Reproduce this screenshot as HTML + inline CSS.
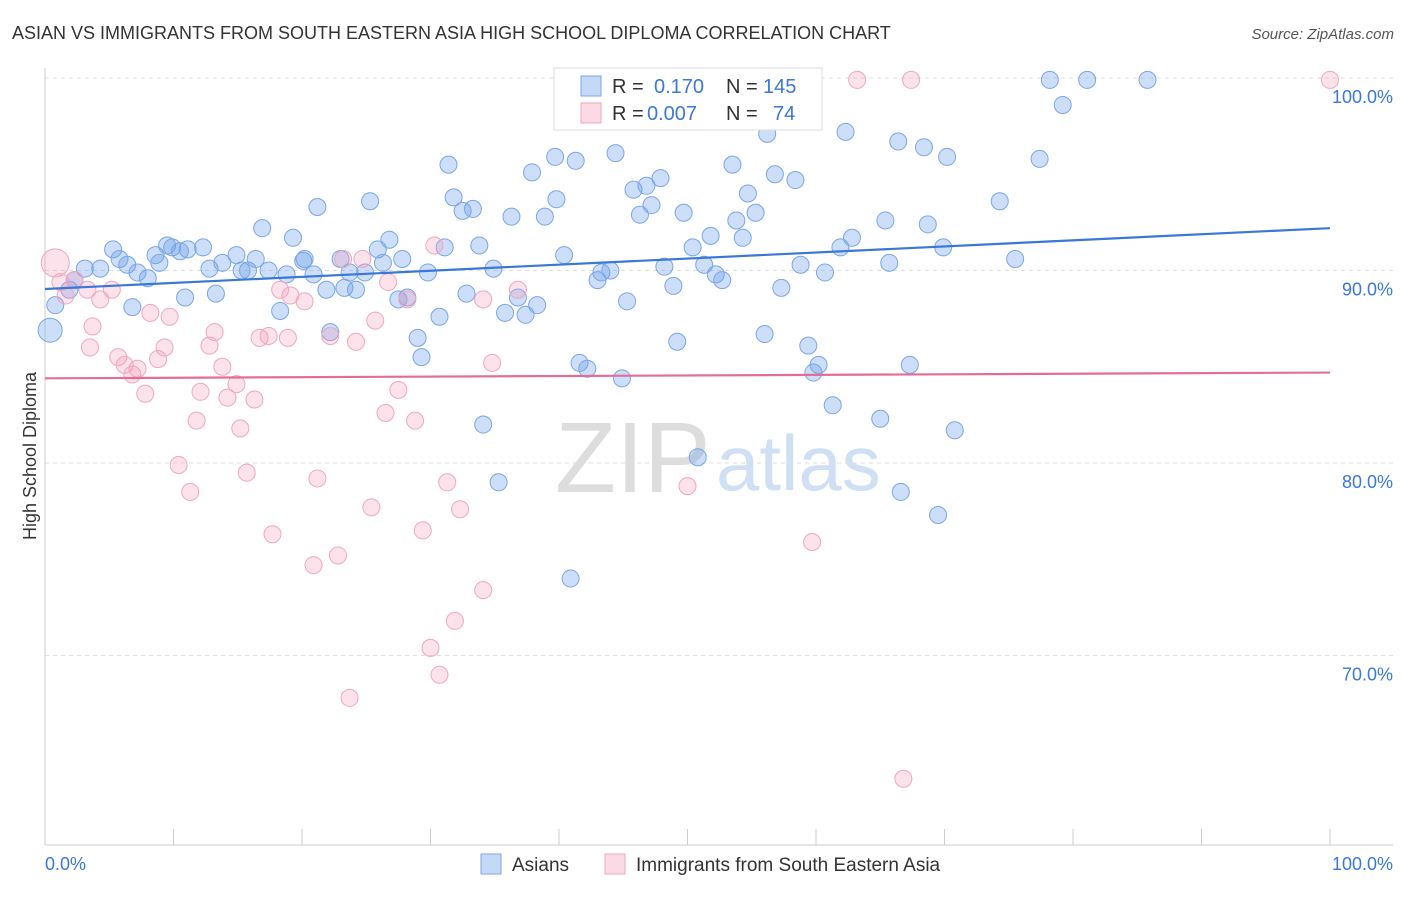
<!DOCTYPE html>
<html><head><meta charset="utf-8">
<style>
body{margin:0;background:#fff;font-family:"Liberation Sans",sans-serif;}
svg text{font-family:"Liberation Sans",sans-serif;}
</style></head>
<body>
<svg id="chart" width="1406" height="892" xmlns="http://www.w3.org/2000/svg">
<text x="12" y="39" font-size="18" fill="#333">ASIAN VS IMMIGRANTS FROM SOUTH EASTERN ASIA HIGH SCHOOL DIPLOMA CORRELATION CHART</text>
<text x="1394" y="39" font-size="15" fill="#555" font-style="italic" text-anchor="end">Source: ZipAtlas.com</text>
<text x="555" y="492" font-size="100" fill="#ddd" font-family="Liberation Serif">ZIP</text>
<text x="716" y="490" font-size="78" fill="#cfe0f4">atlas</text>
<g id="grid"></g>
<g id="axes"></g>
<g id="pts"></g>
<g id="lines"></g>
<text x="36" y="456" font-size="18" fill="#333" text-anchor="middle" transform="rotate(-90 36 456)">High School Diploma</text>
<g>
<rect x="554" y="68" width="268" height="62" fill="#fff" stroke="#ddd"/>
<rect x="581" y="76" width="20" height="20" fill="rgba(110,160,235,0.4)" stroke="#7aa6e6"/>
<rect x="581" y="103" width="20" height="20" fill="rgba(245,160,190,0.4)" stroke="#f0a6bf"/>
<text x="612" y="93" font-size="20" fill="#333">R = </text><text x="654" y="93" font-size="20" fill="#3a78d8">0.170</text>
<text x="726" y="93" font-size="20" fill="#333">N = </text><text x="763" y="93" font-size="20" fill="#3a78d8">145</text>
<text x="612" y="120" font-size="20" fill="#333">R = </text><text x="647" y="120" font-size="20" fill="#3a78d8">0.007</text>
<text x="726" y="120" font-size="20" fill="#333">N = </text><text x="773" y="120" font-size="20" fill="#3a78d8">74</text>
</g>
<g>
<rect x="481" y="854" width="20" height="20" fill="rgba(110,160,235,0.4)" stroke="#7aa6e6"/>
<text x="512" y="871" font-size="19" fill="#333">Asians</text>
<rect x="605" y="854" width="20" height="20" fill="rgba(245,160,190,0.4)" stroke="#f0a6bf"/>
<text x="636" y="871" font-size="19" fill="#333">Immigrants from South Eastern Asia</text>
</g>
</svg>
<script>
const yTicks=[100,90,80,70];
const yTickLabels=["100.0%","90.0%","80.0%","70.0%"];
const xTicks=[0,10,20,30,40,50,60,70,80,90,100];
const blueX=[0.4,0.8,1.9,2.3,3.1,4.3,5.3,5.8,6.4,6.8,7.2,8.0,8.6,8.9,9.5,9.9,10.5,11.1,12.3,12.8,13.3,10.9,13.8,14.9,15.3,15.8,16.4,16.9,17.4,18.3,18.8,19.3,20.1,20.2,20.9,21.2,21.9,22.2,23.0,23.3,23.7,24.2,24.9,25.3,25.9,26.3,26.8,27.5,27.8,28.2,29.0,29.3,29.8,30.7,31.1,31.4,31.8,32.5,32.8,33.3,33.8,34.1,34.9,35.3,35.8,36.3,36.8,37.4,37.9,38.3,38.9,39.8,39.7,40.4,40.9,41.3,41.6,42.2,43.0,43.3,44.0,44.4,44.9,45.3,45.8,46.3,46.8,47.2,47.9,48.2,48.9,49.2,49.7,50.4,50.8,51.3,51.8,52.2,52.7,53.5,53.8,54.3,54.7,55.3,56.0,56.2,56.8,57.3,58.4,58.8,59.4,59.8,60.2,60.7,61.3,61.9,62.3,62.8,65.0,65.4,65.7,66.4,66.6,67.3,68.4,68.7,69.5,69.9,70.2,70.8,74.3,75.5,77.4,78.2,79.2,81.1,85.8];
const blueY=[86.9,88.2,89.0,89.5,90.1,90.1,91.1,90.6,90.3,88.1,89.9,89.6,90.8,90.4,91.3,91.2,91.0,91.1,91.2,90.1,88.8,88.6,90.4,90.8,90.0,90.0,90.6,92.2,90.0,87.9,89.8,91.7,90.5,90.6,89.8,93.3,89.0,86.8,90.6,89.1,89.9,89.0,89.9,93.6,91.1,90.4,91.6,88.5,90.6,88.6,86.5,85.5,89.9,87.6,91.2,95.5,93.8,93.1,88.8,93.2,91.3,82.0,90.1,79.0,87.8,92.8,88.6,87.7,95.1,88.2,92.8,93.7,95.9,90.8,74.0,95.7,85.2,84.9,89.5,89.9,90.0,96.1,84.4,88.4,94.2,92.9,94.4,93.4,94.8,90.2,89.2,86.3,93.0,91.2,80.3,90.3,91.8,89.8,89.5,95.5,92.6,91.7,94.0,93.0,86.7,97.1,95.0,89.1,94.7,90.3,86.1,84.7,85.1,89.9,83.0,91.2,97.2,91.7,82.3,92.6,90.4,96.7,78.5,85.1,96.4,92.4,77.3,91.2,95.9,81.7,93.6,90.6,95.8,99.9,98.6,99.9,99.9];
const pinkX=[0.8,1.2,1.6,2.3,3.3,3.5,3.7,4.3,5.2,5.7,6.2,6.8,7.2,7.8,8.2,8.8,9.3,9.7,10.4,11.3,11.8,12.1,12.8,13.2,13.8,14.2,14.9,15.2,15.7,16.3,16.7,17.4,17.7,18.3,18.9,19.1,20.2,20.9,21.2,22.2,22.8,23.2,23.7,24.2,24.7,25.4,25.7,26.5,26.7,27.5,28.2,28.8,29.4,30.0,30.3,30.7,31.3,31.9,32.3,34.1,34.1,34.8,36.8,50.0,59.7,63.2,66.8,67.4,100];
const pinkY=[90.4,89.4,88.7,89.5,89.0,86.0,87.1,88.5,89.0,85.5,85.1,84.6,84.9,83.6,87.8,85.4,86.0,87.6,79.9,78.5,82.2,83.7,86.1,86.8,85.0,83.4,84.1,81.8,79.5,83.3,86.5,86.6,76.3,89.0,86.5,88.7,88.4,74.7,79.2,86.6,75.2,90.6,67.8,86.3,90.6,77.7,87.4,82.6,89.4,83.8,88.5,82.2,76.5,70.4,91.3,69.0,79.0,71.8,77.6,73.4,88.5,85.2,89.0,78.8,75.9,99.9,63.6,99.9,99.9];
const blueTrend=[89.04,92.2];
const pinkTrend=[84.4,84.7];
const NS="http://www.w3.org/2000/svg";
const X0=45,X1=1330,Y0=845,Y1=78;
const sx=v=>X0+(X1-X0)*v/100;
const sy=v=>Y0-(Y0-Y1)*(v-60.16)/(100-60.16);
function mk(tag,attrs,parent){const e=document.createElementNS(NS,tag);for(const k in attrs)e.setAttribute(k,attrs[k]);parent.appendChild(e);return e;}
const grid=document.getElementById('grid'),axes=document.getElementById('axes'),pts=document.getElementById('pts'),lines=document.getElementById('lines');
yTicks.forEach((t,i)=>{
 const l=mk('line',{x1:X0,x2:1393,y1:sy(t),y2:sy(t),stroke:'#ddd','stroke-dasharray':'4,4'},grid);
 
 
 const tx=mk('text',{x:1393,y:sy(t)+25,'font-size':18,fill:'#3a78d8','text-anchor':'end'},grid);
 tx.textContent=yTickLabels[i];
 
 
});
const ya=mk('line',{x1:X0,x2:X0,y1:68,y2:Y0,stroke:'#ccc'},axes);


const xa=mk('line',{x1:X0,x2:1393,y1:Y0,y2:Y0,stroke:'#ccc'},axes);


xTicks.forEach(t=>{
 const l=mk('line',{x1:sx(t),x2:sx(t),y1:Y0,y2:Y0-16,stroke:'#ccc'},axes);
 
 
});
const xl0=mk('text',{x:45,y:870,'font-size':18,fill:'#3a78d8'},axes);xl0.textContent='0.0%';


const xl1=mk('text',{x:1393,y:870,'font-size':18,fill:'#3a78d8','text-anchor':'end'},axes);xl1.textContent='100.0%';


blueX.forEach((v,i)=>{
 const c=mk('circle',{cx:sx(v),cy:sy(blueY[i]),r:i==0?12:8.5,fill:'rgba(110,160,235,0.35)',stroke:'#7aa6e6','stroke-width':1},pts);
 
 
});
pinkX.forEach((v,i)=>{
 const c=mk('circle',{cx:sx(v),cy:sy(pinkY[i]),r:i==0?14:8.5,fill:'rgba(245,160,190,0.3)',stroke:'#f0a6bf','stroke-width':1},pts);
 
 
});
const bl=mk('line',{x1:sx(0),x2:sx(100),y1:sy(blueTrend[0]),y2:sy(blueTrend[1]),stroke:'#3a78d8','stroke-width':2.2},lines);


const pl=mk('line',{x1:sx(0),x2:sx(100),y1:sy(pinkTrend[0]),y2:sy(pinkTrend[1]),stroke:'#e46d97','stroke-width':2.2},lines);


</script>
</body></html>
